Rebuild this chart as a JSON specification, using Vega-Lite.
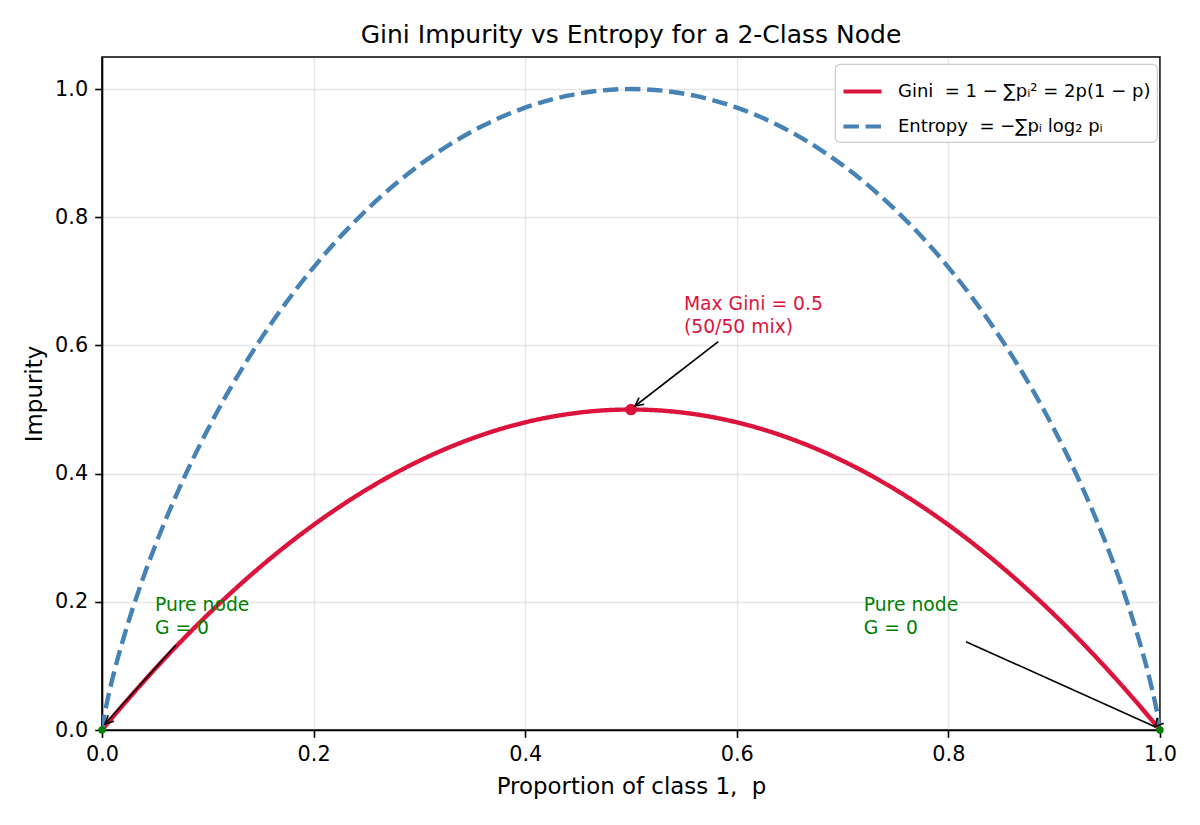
{
  "$schema": "https://vega.github.io/schema/vega-lite/v6.json",
  "autosize": "none",
  "width": 1058,
  "height": 673,
  "padding": {"left": 102, "top": 57, "right": 40, "bottom": 95},
  "background": "white",
  "title": {"text": "Gini Impurity vs Entropy for a 2-Class Node", "fontSize": 25, "fontWeight": "normal", "anchor": "middle", "frame": "group", "offset": -11, "baseline": "alphabetic", "color": "#000"},
  "config": {
    "font": "DejaVu Sans",
    "view": {"stroke": "#000", "strokeWidth": 1.6},
    "axis": {
      "domainColor": "#000", "domainWidth": 1.6,
      "tickColor": "#000", "tickWidth": 1.6, "tickSize": 7.3,
      "labelFontSize": 20.8, "labelColor": "#000", "labelPadding": 7, "labelFlush": false,
      "titleFontSize": 22.9, "titleFontWeight": "normal", "titleColor": "#000",
      "gridColor": "#b0b0b0", "gridOpacity": 0.3, "gridWidth": 1.4
    },
    "legend": {
      "orient": "none", "legendX": 733, "legendY": 7,
      "fillColor": "white", "strokeColor": "#cccccc", "strokeWidth": 1.2, "cornerRadius": 5,
      "padding": 6, "labelFontSize": 18, "labelColor": "#000", "labelOffset": 14, "labelLimit": 500,
      "symbolType": "stroke", "symbolSize": 1444, "symbolStrokeWidth": 4.2, "rowPadding": 4
    }
  },
  "datasets": {
    "curve": [
      {"p": 0, "gini": 0, "entropy": 0},
      {"p": 0.001, "gini": 0.002, "entropy": 0.0114},
      {"p": 0.002, "gini": 0.004, "entropy": 0.0208},
      {"p": 0.005, "gini": 0.00995, "entropy": 0.0454},
      {"p": 0.01, "gini": 0.0198, "entropy": 0.0808},
      {"p": 0.02, "gini": 0.0392, "entropy": 0.1414},
      {"p": 0.03, "gini": 0.0582, "entropy": 0.1944},
      {"p": 0.04, "gini": 0.0768, "entropy": 0.2423},
      {"p": 0.05, "gini": 0.095, "entropy": 0.2864},
      {"p": 0.06, "gini": 0.1128, "entropy": 0.3274},
      {"p": 0.08, "gini": 0.1472, "entropy": 0.4022},
      {"p": 0.10, "gini": 0.18, "entropy": 0.469},
      {"p": 0.12, "gini": 0.2112, "entropy": 0.5294},
      {"p": 0.14, "gini": 0.2408, "entropy": 0.5842},
      {"p": 0.16, "gini": 0.2688, "entropy": 0.6343},
      {"p": 0.18, "gini": 0.2952, "entropy": 0.6801},
      {"p": 0.20, "gini": 0.32, "entropy": 0.7219},
      {"p": 0.22, "gini": 0.3432, "entropy": 0.7602},
      {"p": 0.25, "gini": 0.375, "entropy": 0.8113},
      {"p": 0.28, "gini": 0.4032, "entropy": 0.8555},
      {"p": 0.30, "gini": 0.42, "entropy": 0.8813},
      {"p": 0.33, "gini": 0.4422, "entropy": 0.9149},
      {"p": 0.36, "gini": 0.4608, "entropy": 0.9427},
      {"p": 0.40, "gini": 0.48, "entropy": 0.971},
      {"p": 0.44, "gini": 0.4928, "entropy": 0.9896},
      {"p": 0.47, "gini": 0.4982, "entropy": 0.9974},
      {"p": 0.50, "gini": 0.5, "entropy": 1.0},
      {"p": 0.53, "gini": 0.4982, "entropy": 0.9974},
      {"p": 0.56, "gini": 0.4928, "entropy": 0.9896},
      {"p": 0.60, "gini": 0.48, "entropy": 0.971},
      {"p": 0.64, "gini": 0.4608, "entropy": 0.9427},
      {"p": 0.67, "gini": 0.4422, "entropy": 0.9149},
      {"p": 0.70, "gini": 0.42, "entropy": 0.8813},
      {"p": 0.72, "gini": 0.4032, "entropy": 0.8555},
      {"p": 0.75, "gini": 0.375, "entropy": 0.8113},
      {"p": 0.78, "gini": 0.3432, "entropy": 0.7602},
      {"p": 0.80, "gini": 0.32, "entropy": 0.7219},
      {"p": 0.82, "gini": 0.2952, "entropy": 0.6801},
      {"p": 0.84, "gini": 0.2688, "entropy": 0.6343},
      {"p": 0.86, "gini": 0.2408, "entropy": 0.5842},
      {"p": 0.88, "gini": 0.2112, "entropy": 0.5294},
      {"p": 0.90, "gini": 0.18, "entropy": 0.469},
      {"p": 0.92, "gini": 0.1472, "entropy": 0.4022},
      {"p": 0.94, "gini": 0.1128, "entropy": 0.3274},
      {"p": 0.95, "gini": 0.095, "entropy": 0.2864},
      {"p": 0.96, "gini": 0.0768, "entropy": 0.2423},
      {"p": 0.97, "gini": 0.0582, "entropy": 0.1944},
      {"p": 0.98, "gini": 0.0392, "entropy": 0.1414},
      {"p": 0.99, "gini": 0.0198, "entropy": 0.0808},
      {"p": 0.995, "gini": 0.00995, "entropy": 0.0454},
      {"p": 0.998, "gini": 0.004, "entropy": 0.0208},
      {"p": 0.999, "gini": 0.002, "entropy": 0.0114},
      {"p": 1, "gini": 0, "entropy": 0}
    ],
    "markers": [
      {"p": 0.5, "v": 0.5, "kind": "max"},
      {"p": 0, "v": 0, "kind": "pure"},
      {"p": 1, "v": 0, "kind": "pure"}
    ],
    "arrows": [
      {"name": "max", "x": 0.5825, "y": 0.6058, "x2": 0.5038, "y2": 0.5055},
      {"name": "left", "x": 0.0699, "y": 0.1326, "x2": 0.0028, "y2": 0.0094},
      {"name": "right", "x": 0.8166, "y": 0.1378, "x2": 0.9953, "y2": 0.0051}
    ],
    "labels": [
      {"kind": "max", "x": 0.55, "y": 0.656, "text": "Max Gini = 0.5"},
      {"kind": "max", "x": 0.55, "y": 0.62, "text": "(50/50 mix)"},
      {"kind": "pure", "x": 0.05, "y": 0.185, "text": "Pure node"},
      {"kind": "pure", "x": 0.05, "y": 0.15, "text": "G = 0"},
      {"kind": "pure", "x": 0.72, "y": 0.185, "text": "Pure node"},
      {"kind": "pure", "x": 0.72, "y": 0.15, "text": "G = 0"}
    ]
  },
  "layer": [
    {
      "data": {"name": "curve"},
      "transform": [{"fold": ["gini", "entropy"], "as": ["series", "value"]}],
      "mark": {"type": "line", "strokeWidth": 4.4, "interpolate": "monotone", "clip": true},
      "encoding": {
        "x": {"field": "p", "type": "quantitative", "scale": {"domain": [0, 1], "nice": false, "zero": false},
              "axis": {"title": "Proportion of class 1,\u00a0\u00a0p", "values": [0, 0.2, 0.4, 0.6, 0.8, 1.0], "format": ".1f", "titlePadding": 11}},
        "y": {"field": "value", "type": "quantitative", "scale": {"domain": [0, 1.05], "nice": false, "zero": false},
              "axis": {"title": "Impurity", "values": [0, 0.2, 0.4, 0.6, 0.8, 1.0], "format": ".1f", "titlePadding": 8}},
        "color": {"field": "series", "type": "nominal",
                  "scale": {"domain": ["gini", "entropy"], "range": ["#DC143C", "#4682B4"]},
                  "legend": {"title": null, "labelExpr": "datum.value == 'gini' ? 'Gini\u00a0\u00a0= 1 − ∑pᵢ² = 2p(1 − p)' : 'Entropy\u00a0\u00a0= −∑pᵢ log₂ pᵢ'"}},
        "strokeDash": {"field": "series", "type": "nominal",
                  "scale": {"domain": ["gini", "entropy"], "range": [[1, 0], [15.4, 6.7]]},
                  "legend": {"title": null, "labelExpr": "datum.value == 'gini' ? 'Gini\u00a0\u00a0= 1 − ∑pᵢ² = 2p(1 − p)' : 'Entropy\u00a0\u00a0= −∑pᵢ log₂ pᵢ'"}}
      }
    },
    {
      "data": {"name": "markers"},
      "transform": [{"filter": "datum.kind == 'pure'"}],
      "mark": {"type": "point", "filled": true, "color": "#008000", "size": 55, "opacity": 1},
      "encoding": {"x": {"field": "p", "type": "quantitative"}, "y": {"field": "v", "type": "quantitative"}}
    },
    {
      "data": {"name": "markers"},
      "transform": [{"filter": "datum.kind == 'max'"}],
      "mark": {"type": "point", "filled": true, "color": "#DC143C", "size": 135, "opacity": 1},
      "encoding": {"x": {"field": "p", "type": "quantitative"}, "y": {"field": "v", "type": "quantitative"}}
    },
    {
      "data": {"name": "arrows"},
      "mark": {"type": "rule", "color": "#000", "strokeWidth": 1.6},
      "encoding": {
        "x": {"field": "x", "type": "quantitative"}, "y": {"field": "y", "type": "quantitative"},
        "x2": {"field": "x2"}, "y2": {"field": "y2"}
      }
    },
    {
      "data": {"name": "arrows"},
      "mark": {"type": "point", "shape": "M-1,-0.5L0,0L-1,0.5", "filled": false, "stroke": "#000", "strokeWidth": 1.6, "size": 280, "opacity": 1},
      "encoding": {
        "x": {"field": "x2", "type": "quantitative"}, "y": {"field": "y2", "type": "quantitative"},
        "angle": {"field": "name", "type": "nominal", "scale": {"domain": ["max", "left", "right"], "range": [142.3, 131.9, 24.2]}, "legend": null}
      }
    },
    {
      "data": {"name": "labels"},
      "transform": [{"filter": "datum.kind == 'max'"}],
      "mark": {"type": "text", "align": "left", "baseline": "alphabetic", "fontSize": 18.75, "color": "#DC143C"},
      "encoding": {"x": {"field": "x", "type": "quantitative"}, "y": {"field": "y", "type": "quantitative"}, "text": {"field": "text"}}
    },
    {
      "data": {"name": "labels"},
      "transform": [{"filter": "datum.kind == 'pure'"}],
      "mark": {"type": "text", "align": "left", "baseline": "alphabetic", "fontSize": 18.75, "color": "#008000"},
      "encoding": {"x": {"field": "x", "type": "quantitative"}, "y": {"field": "y", "type": "quantitative"}, "text": {"field": "text"}}
    }
  ]
}
